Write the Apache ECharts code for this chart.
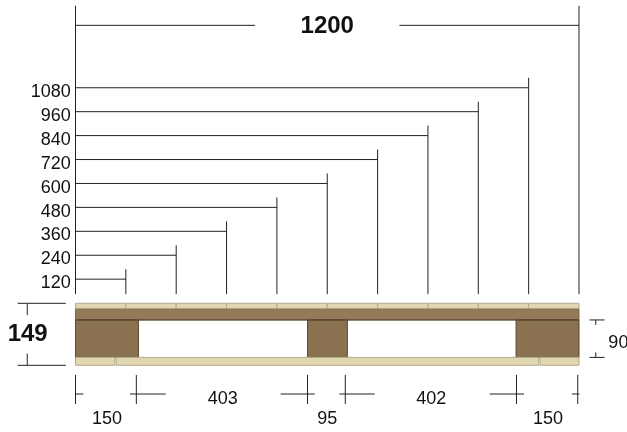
<!DOCTYPE html>
<html>
<head>
<meta charset="utf-8">
<style>html,body{margin:0;padding:0;background:#fff}#c{width:627px;height:432px}</style>
<script src="https://cdn.jsdelivr.net/npm/echarts@6/dist/echarts.min.js"></script>
</head>
<body>
<div id="c"></div>
<script>
// ---- values (millimetres) ----
const overallLength = 1200;
const overallHeight = 149;
const blockHeight = 90;
const spacingMarks = [120, 240, 360, 480, 600, 720, 840, 960, 1080];
const spanLabels = [150, 403, 95, 402, 150];
const spanCentres = [75, 351, 600, 848, 1126];
const spanTicks = [0, 145, 553, 643, 1051, 1197];
const blockEdges = [[0, 150], [553, 648], [1050, 1200]];
const bottomBoardEdges = [[0, 94], [97, 1104], [1107, 1200]];
const boardLevels = [0, 19, 109, 135, 149];

// ---- layout in drawing units ----
const L = {
  levelBase: 207, levelStep: 57.5, leaderOver: 24, leaderFoot: 171, frameTop: 864,
  overallY: 817, overallGap: [428, 772], labelX: -11, labelDrop: -10,
  tickTop: -23, tickBottom: -93, stubY: -69, labelHigh: -82, labelLow: -130,
  stubs: [[0, 19], [-15, 70], [-64, 17], [-14, 70], [-64, 18], [-14, 4]]
};
const INK = '#222222';
const FONT = '"Liberation Sans", Arial, sans-serif';
const C = {
  pale: '#e0d6b0', paleEdge: '#b3aa8c', mid: '#957a58', midEdge: '#7f6a4e',
  block: '#8a7250', blockEdge: '#5a4a34', seam: '#4f4230'
};

const items = [];
const line = (x1, y1, x2, y2, color, w) => items.push({ k: 'l', x1, y1, x2, y2, color: color || INK, w: w || 1 });
const rect = (x1, y1, x2, y2, fill, stroke) => items.push({ k: 'r', x1, y1, x2, y2, fill, stroke });
const text = (x, y, s, size, bold, align) => items.push({ k: 't', x, y, s: String(s), size, bold, align: align || 'center' });

// frame + overall dimension
line(0, L.leaderFoot, 0, L.frameTop);
line(overallLength, L.leaderFoot, overallLength, L.frameTop);
line(0, L.overallY, L.overallGap[0], L.overallY);
line(L.overallGap[1], L.overallY, overallLength, L.overallY);
text(overallLength / 2, L.overallY - 3, overallLength, 24, true);

// staircase of spacing marks
spacingMarks.forEach((m, i) => {
  const y = L.levelBase + i * L.levelStep;
  line(0, y, m, y);
  line(m, L.leaderFoot, m, y + L.leaderOver);
  text(L.labelX, y + L.labelDrop, m, 18, false, 'right');
});

// pallet: top boards, bearer, blocks, bottom boards
const [b0, b1, b2, b3, b4] = boardLevels;
[0].concat(spacingMarks).forEach(m => {
  rect(m, b3, Math.min(m + spacingMarks[0], overallLength), b4, C.pale, C.paleEdge);
});
rect(0, b2, overallLength, b3, C.mid, C.midEdge);
blockEdges.forEach(e => rect(e[0], b1, e[1], b2, C.block, C.blockEdge));
line(0, b2, overallLength, b2, C.seam, 1);
bottomBoardEdges.forEach(e => rect(e[0], b0, e[1], b1, C.pale, C.paleEdge));

// dimensions below
spanTicks.forEach((t, i) => {
  line(t, L.tickTop, t, L.tickBottom);
  line(t + L.stubs[i][0], L.stubY, t + L.stubs[i][1], L.stubY);
});
spanLabels.forEach((v, i) => text(spanCentres[i], i % 2 ? L.labelHigh : L.labelLow, v, 18, false));

// overall height dimension on the left
line(-138, overallHeight, -23, overallHeight);
line(-138, 0, -23, 0);
line(-115, overallHeight, -115, 121);
line(-115, 28, -115, 0);
text(-114, 74, overallHeight, 24, true);

// block height dimension on the right
line(1225, b2, 1261, b2);
line(1225, b1, 1261, b1);
line(1240, b2, 1240, 97);
line(1240, b1, 1240, 31);
text(1270, 54, blockHeight, 18, false, 'left');

function renderItem(params, api) {
  const d = items[params.dataIndex];
  if (d.k === 't') {
    const p = api.coord([d.x, d.y]);
    return {
      type: 'text', x: p[0], y: p[1],
      style: {
        text: d.s, fill: '#111', align: d.align, verticalAlign: 'middle',
        font: (d.bold ? 'bold ' : '') + d.size + 'px ' + FONT
      }
    };
  }
  const a = api.coord([d.x1, d.y1]), b = api.coord([d.x2, d.y2]);
  if (d.k === 'l') {
    return {
      type: 'line',
      shape: { x1: a[0], y1: a[1], x2: b[0], y2: b[1] },
      style: { stroke: d.color, lineWidth: d.w }
    };
  }
  const x = Math.min(a[0], b[0]), y = Math.min(a[1], b[1]);
  const X = Math.max(a[0], b[0]), Y = Math.max(a[1], b[1]);
  return {
    type: 'rect', shape: { x, y, width: X - x, height: Y - y },
    style: { fill: d.fill, stroke: d.stroke, lineWidth: 1 }
  };
}

const chart = echarts.init(document.getElementById('c'), null, { renderer: 'canvas' });
chart.setOption({
  animation: false,
  backgroundColor: '#fff',
  grid: { left: 75.5, right: 48, top: 303.3, bottom: 66.7 },
  xAxis: { type: 'value', min: 0, max: overallLength, show: false },
  yAxis: { type: 'value', min: 0, max: overallHeight, show: false },
  series: [{
    type: 'custom',
    coordinateSystem: 'cartesian2d',
    clip: false,
    silent: true,
    renderItem,
    data: items.map((d, i) => [i])
  }]
});
</script>
</body>
</html>
